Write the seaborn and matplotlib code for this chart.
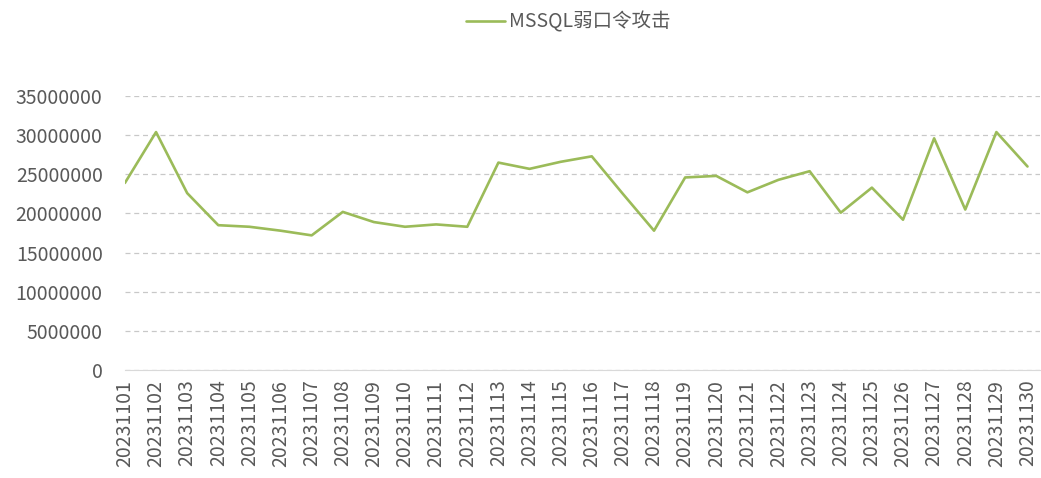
import matplotlib
matplotlib.use("Agg")
import matplotlib.pyplot as plt
import seaborn as sns
import pandas as pd

# daily counts
dates = [f"202311{d:02d}" for d in range(1, 31)]
attacks = [23.9, 30.4, 22.6, 18.5, 18.3, 17.8, 17.2, 20.2, 18.9, 18.3,
           18.6, 18.3, 26.5, 25.7, 26.6, 27.3, 22.5, 17.8, 24.6, 24.8,
           22.7, 24.3, 25.4, 20.1, 23.3, 19.2, 29.6, 20.5, 30.4, 26.0]
attacks = [v * 1e6 for v in attacks]
series_name = "MSSQL弱口令攻击"

sns.set_style("white")
plt.rcParams['font.family'] = ['Noto Sans CJK SC', 'DejaVu Sans']

df = pd.DataFrame({"date": dates, "count": attacks})
df["pos"] = range(len(df))

fig = plt.figure(figsize=[10.41, 4.78], dpi=100)
ax = fig.add_axes([0.120, 0.226, 0.879, 0.573])

sns.lineplot(data=df, x="pos", y="count", ax=ax, color="#9BBB59",
             linewidth=1.9, label=series_name, legend=False)

ax.set_xlim(0, 29.4)
ax.set_ylim(0, 35000000)
ax.set_yticks(range(0, 35000001, 5000000))
ax.set_yticklabels([str(v) for v in range(0, 35000001, 5000000)])
ax.set_xticks(range(len(dates)))
ax.set_xticklabels(dates, rotation=90)
# small tick marks only on every other day, like the original
ax.set_xticks(range(0, len(dates), 2), minor=True)
ax.set_xlabel("")
ax.set_ylabel("")

ax.grid(axis="y", ls=(0, (4, 3)), color="#C8C8C8", lw=0.9)
ax.set_axisbelow(True)
for side in ["top", "right", "left"]:
    ax.spines[side].set_visible(False)
ax.spines["bottom"].set_color("#D9D9D9")
ax.tick_params(axis="y", length=0, labelsize=14, labelcolor="#595959", pad=16)
ax.tick_params(axis="x", which="major", length=0, labelsize=14,
               labelcolor="#595959", pad=7)
ax.tick_params(axis="x", which="minor", length=4, color="#D9D9D9", bottom=True)

handles, labels = ax.get_legend_handles_labels()
leg = fig.legend(handles, labels, loc="center", bbox_to_anchor=(0.546, 1 - 22 / 478),
                 frameon=False, fontsize=14, handlelength=2.0, handletextpad=0.2)
for t in leg.get_texts():
    t.set_color("#595959")

fig.savefig("out.png", dpi=100)
